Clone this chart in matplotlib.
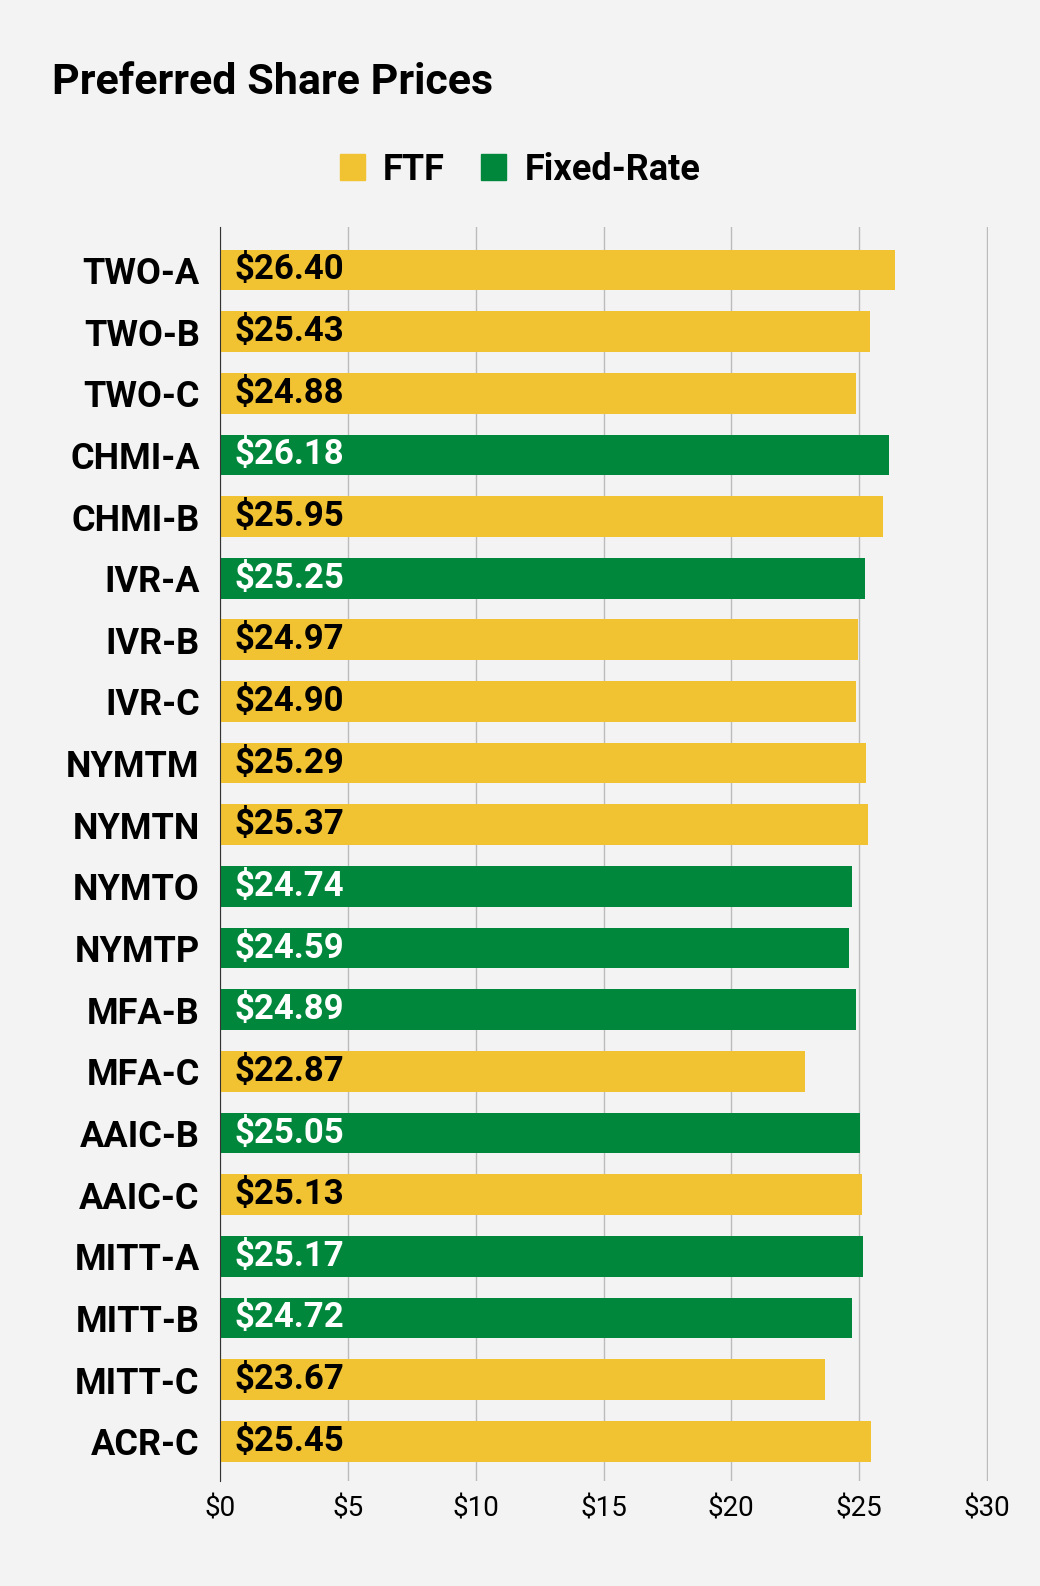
import matplotlib
matplotlib.use("Agg")
import matplotlib.pyplot as plt
from matplotlib.patches import Patch

tickers = ["TWO-A", "TWO-B", "TWO-C", "CHMI-A", "CHMI-B", "IVR-A", "IVR-B", "IVR-C",
           "NYMTM", "NYMTN", "NYMTO", "NYMTP", "MFA-B", "MFA-C", "AAIC-B", "AAIC-C",
           "MITT-A", "MITT-B", "MITT-C", "ACR-C"]
prices = [26.40, 25.43, 24.88, 26.18, 25.95, 25.25, 24.97, 24.90, 25.29, 25.37,
          24.74, 24.59, 24.89, 22.87, 25.05, 25.13, 25.17, 24.72, 23.67, 25.45]
kinds = ["FTF", "FTF", "FTF", "Fixed", "FTF", "Fixed", "FTF", "FTF", "FTF", "FTF",
         "Fixed", "Fixed", "Fixed", "FTF", "Fixed", "FTF", "Fixed", "Fixed", "FTF", "FTF"]
xticks = [0, 5, 10, 15, 20, 25, 30]

YEL, GRN, BG = "#F1C232", "#00873C", "#F3F3F3"
plt.rcParams["font.family"] = ["Roboto", "DejaVu Sans"]

fig = plt.figure(figsize=(10.4, 15.86), dpi=100, facecolor=BG)
ax = fig.add_axes([0.212, 0.066, 0.738, 0.791], facecolor=BG)

ypos = list(range(len(tickers)))
colors = [YEL if k == "FTF" else GRN for k in kinds]
ax.barh(ypos, prices, height=0.66, color=colors, zorder=2)
for y, p, k in zip(ypos, prices, kinds):
    ax.text(0.55, y, f"${p:.2f}", va="center", ha="left", fontsize=25, fontweight="bold",
            color="black" if k == "FTF" else "white", zorder=3)

ax.set_ylim(len(tickers) - 0.35, -0.7)
ax.set_xlim(0, 30.05)
ax.set_yticks(ypos)
ax.set_yticklabels(tickers, fontsize=26, fontweight="bold")
ax.set_xticks(xticks)
ax.set_xticklabels([f"${t}" for t in xticks], fontsize=20)
ax.tick_params(length=0, pad=10)
ax.tick_params(axis="y", pad=15)
ax.grid(axis="x", color="#BBBBBB", lw=1, zorder=0)
for s in ["top", "right", "bottom"]:
    ax.spines[s].set_visible(False)
ax.spines["left"].set_color("#333333")

fig.text(0.05, 0.948, "Preferred Share Prices", fontsize=31, fontweight="bold", va="center")
fig.legend(handles=[Patch(color=YEL, label="FTF"), Patch(color=GRN, label="Fixed-Rate")],
           loc="center", bbox_to_anchor=(0.5, 0.893), ncol=2, frameon=False,
           prop={"size": 26, "weight": "bold"}, handlelength=0.7, handleheight=0.7,
           columnspacing=1.0, handletextpad=0.5)

fig.savefig("out.png", dpi=100, facecolor=BG)
